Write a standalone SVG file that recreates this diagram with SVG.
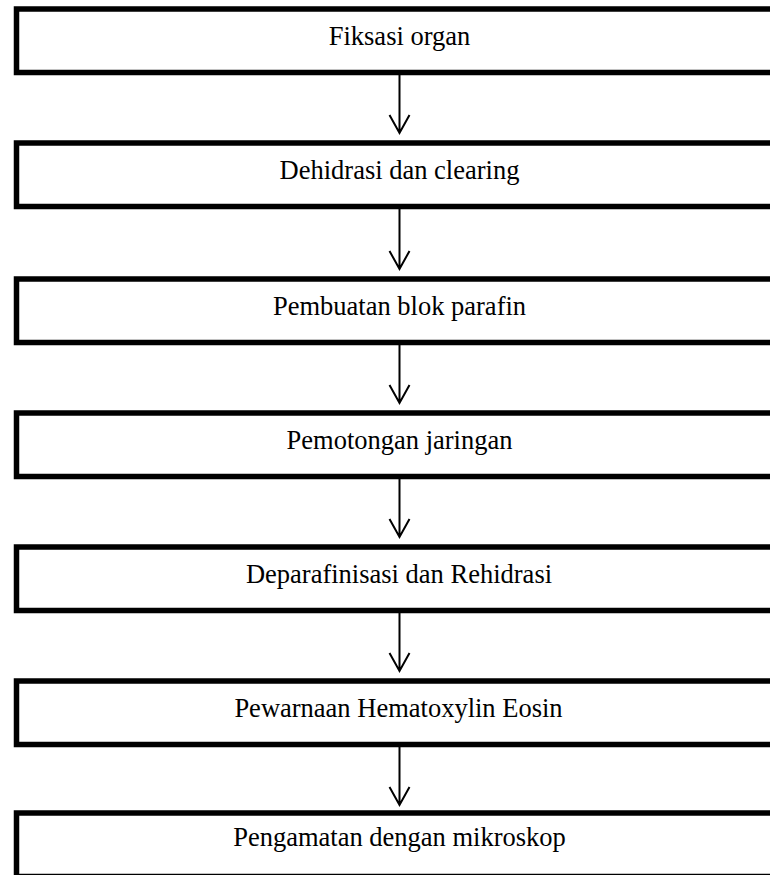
<svg xmlns="http://www.w3.org/2000/svg" width="770" height="875" viewBox="0 0 770 875">
<style>
.box{fill:#fff;stroke:#000;stroke-width:5.5}
.lbl{font-family:"Liberation Serif","Times New Roman",serif;font-size:26.5px;fill:#000;text-anchor:middle}
.con{stroke:#000;stroke-width:2;fill:none}
</style>
<rect width="770" height="875" fill="#fff"/>
<g id="n1"><rect class="box" x="16.5" y="9" width="800" height="63.5"/><text class="lbl" x="399.5" y="45">Fiksasi organ</text></g>
<g id="n2"><rect class="box" x="16.5" y="143" width="800" height="63.5"/><text class="lbl" x="399.5" y="179">Dehidrasi dan clearing</text></g>
<g id="n3"><rect class="box" x="16.5" y="279" width="800" height="63.5"/><text class="lbl" x="399.5" y="315">Pembuatan blok parafin</text></g>
<g id="n4"><rect class="box" x="16.5" y="413" width="800" height="63.5"/><text class="lbl" x="399.5" y="449">Pemotongan jaringan</text></g>
<g id="n5"><rect class="box" x="16.5" y="547" width="800" height="63.5"/><text class="lbl" x="399" y="583">Deparafinisasi dan Rehidrasi</text></g>
<g id="n6"><rect class="box" x="16.5" y="681" width="800" height="63.5"/><text class="lbl" x="398.5" y="717">Pewarnaan Hematoxylin Eosin</text></g>
<g id="n7"><rect class="box" x="16.5" y="813" width="800" height="63.5"/><text class="lbl" x="399.5" y="846">Pengamatan dengan mikroskop</text></g>
<g id="connectors">
<path class="con" d="M399.5 75 V133 M389.5 115 L399.5 133 L409.5 115"/>
<path class="con" d="M399.5 209 V269 M389.5 251 L399.5 269 L409.5 251"/>
<path class="con" d="M399.5 345 V403 M389.5 385 L399.5 403 L409.5 385"/>
<path class="con" d="M399.5 479 V537 M389.5 519 L399.5 537 L409.5 519"/>
<path class="con" d="M399.5 613 V671 M389.5 653 L399.5 671 L409.5 653"/>
<path class="con" d="M399.5 747 V805 M389.5 787 L399.5 805 L409.5 787"/>
</g>
</svg>
